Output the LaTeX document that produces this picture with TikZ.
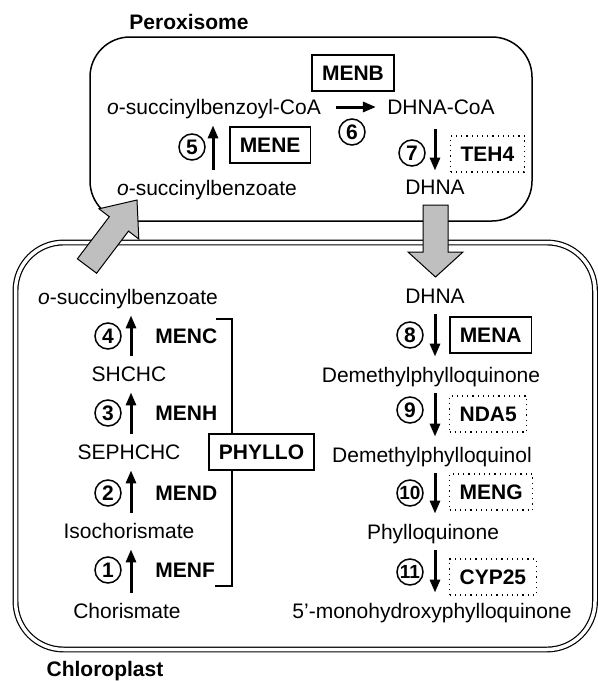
\documentclass[tikz,border=0pt]{standalone}
\usepackage{fontspec}
\setmainfont{Liberation Sans}
\usetikzlibrary{arrows.meta}
\tikzset{
	x=0.5pt, y=-0.5pt,
	>={Triangle[length=6.5pt,width=5pt]},
	every node/.style={font=\fontsize{10.5}{12}\selectfont},
	metab/.style={inner sep=1.5pt, text height=9pt, text depth=2pt},
	enz/.style={font=\fontsize{10.5}{12}\selectfont\bfseries, inner sep=0pt, anchor=west},
	enzbox/.style={enz, draw, line width=0.75pt, inner xsep=5pt, minimum height=18pt},
	enzdot/.style={enzbox, line width=0.6pt, dotted},
	num/.style={circle, draw, line width=0.75pt, minimum size=13pt, inner sep=0pt,
		font=\fontsize{10.5}{12}\selectfont\bfseries},
	numtwo/.style={num, font=\fontsize{9.5}{11}\selectfont\bfseries},
	rxn/.style={->, line width=1.5pt, shorten <=2pt, shorten >=2pt},
	bigarrow/.style={draw, line width=0.5pt, fill=black!25},
	title/.style={font=\fontsize{10.5}{12}\selectfont\bfseries}}
\begin{document}
\begin{tikzpicture}
	
		\useasboundingbox (0,0) rectangle (598,681);
		
		% compartments
		\draw[line width=0.75pt, rounded corners=20pt] (90,37) rectangle (532,221);
		\draw[line width=0.6pt, double, double distance=1.75pt, rounded corners=24pt] (15.5,242.5) rectangle (595,649.5);
		\node[title] (perox) at (189,22) {Peroxisome};
		\node[title] (chloro) at (105,671) {Chloroplast};
		
		% peroxisome
		\node[metab] (osbcoa) at (214,107) {\textit{o}-succinylbenzoyl-CoA};
		\node[metab] (dhnacoa) at (441,107) {DHNA-CoA};
		\node[metab] (osbp) at (207,188) {\textit{o}-succinylbenzoate};
		\node[metab] (dhnap) at (435,187) {DHNA};
		\coordinate (x5) at (213,0);
		\coordinate (x7) at (435,0);
		
		\node[enzbox, anchor=center] (menb) at (353,73) {MENB};
		\node[enzbox] (mene) at (229,145) {MENE};
		\node[enzdot] (teh4) at (450,154) {TEH4};
		\node[num] (s5) at (192,147) {5};
		\node[num] (s6) at (352,132) {6};
		\node[num] (s7) at (412,153) {7};
		
		\path[rxn]
		(osbp.north -| x5) edge (osbcoa.south -| x5)
		(osbcoa.east) edge[shorten <=6pt, shorten >=4pt] (dhnacoa.west)
		(dhnacoa.south -| x7) edge[shorten <=4pt, shorten >=1pt] (dhnap.north -| x7)
		;
		
		% chloroplast, left column
		\node[metab] (osbc) at (128,297) {\textit{o}-succinylbenzoate};
		\node[metab] (shchc) at (129,374) {SHCHC};
		\node[metab] (sephchc) at (129,452) {SEPHCHC};
		\node[metab] (isoc) at (129,531) {Isochorismate};
		\node[metab] (chor) at (127,611) {Chorismate};
		\coordinate (lx) at (131,0);
		
		\node[num] (s4) at (108,336) {4};
		\node[num] (s3) at (108,413) {3};
		\node[num] (s2) at (108,493) {2};
		\node[num] (s1) at (108,570) {1};
		\node[enz] (menc) at (155,336) {MENC};
		\node[enz] (menh) at (155,413) {MENH};
		\node[enz] (mend) at (155,493) {MEND};
		\node[enz] (menf) at (155,570) {MENF};
		
		\path[rxn]
		(shchc.north -| lx) edge (osbc.south -| lx)
		(sephchc.north -| lx) edge (shchc.south -| lx)
		(isoc.north -| lx) edge (sephchc.south -| lx)
		(chor.north -| lx) edge (isoc.south -| lx)
		;
		
		\draw[line width=0.7pt] (216,319) -- (232,319) -- (232,586) -- (215,586);
		\node[enzbox, anchor=center, fill=white] (phyllo) at (261.5,452) {PHYLLO};
		
		% chloroplast, right column
		\node[metab] (dhnac) at (435,296) {DHNA};
		\node[metab] (dmpq) at (431,375) {Demethylphylloquinone};
		\node[metab] (dmpql) at (432,455) {Demethylphylloquinol};
		\node[metab] (pq) at (433,532) {Phylloquinone};
		\node[metab] (ohpq) at (432,611) {5'-monohydroxyphylloquinone};
		\coordinate (rx) at (435,0);
		
		\node[num] (s8) at (410,335) {8};
		\node[num] (s9) at (410,410) {9};
		\node[numtwo] (s10) at (410,493) {10};
		\node[numtwo] (s11) at (410,572) {11};
		\node[enzbox] (mena) at (449,335) {MENA};
		\node[enzdot] (nda5) at (449,414) {NDA5};
		\node[enzdot] (meng) at (449,492) {MENG};
		\node[enzdot] (cyp25) at (449,577) {CYP25};
		
		\path[rxn]
		(dhnac.south -| rx) edge (dmpq.north -| rx)
		(dmpq.south -| rx) edge (dmpql.north -| rx)
		(dmpql.south -| rx) edge (pq.north -| rx)
		(pq.south -| rx) edge (ohpq.north -| rx)
		;
		
		% transport between compartments
		\draw[bigarrow] (77.4,258.8) -- (109.3,216.7) -- (99,208.8) -- (137,200)
			-- (138.8,239) -- (128.5,231.1) -- (96.6,273.2) -- cycle;
		\draw[bigarrow] (423,205) -- (423,252) -- (408,252) -- (435.5,277)
			-- (463,252) -- (448,252) -- (448,205) -- cycle;
	
	\end{tikzpicture}
\end{document}
